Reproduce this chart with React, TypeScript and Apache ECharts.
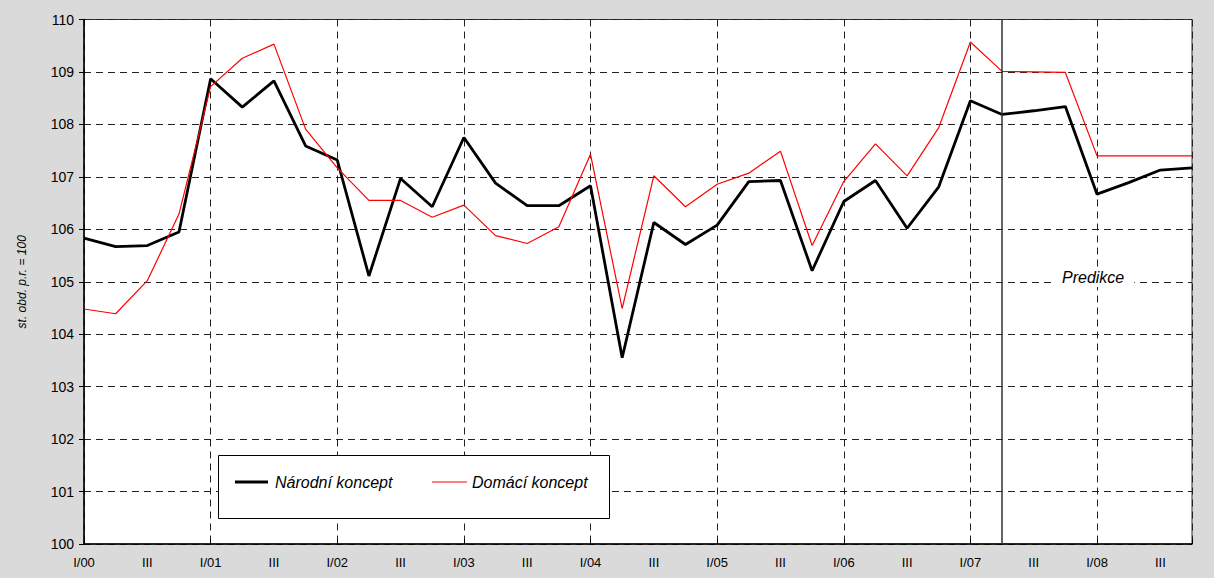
import React, { useEffect, useRef } from "react";
import * as echarts from "echarts";

const years = ["00", "01", "02", "03", "04", "05", "06", "07", "08"];
const quarterNames = ["I", "II", "III", "IV"];
const categories: string[] = [];
years.forEach((y) => quarterNames.forEach((q) => categories.push(q + "/" + y)));

const narodni = [
  105.83, 105.67, 105.69, 105.95, 108.87, 108.33, 108.83, 107.59,
  107.32, 105.11, 106.97, 106.43, 107.75, 106.88, 106.45, 106.45,
  106.83, 103.55, 106.13, 105.71, 106.08, 106.91, 106.93, 105.21,
  106.53, 106.93, 106.02, 106.81, 108.45, 108.19, 108.26, 108.34,
  106.67, 106.89, 107.13, 107.17,
];

const domaci = [
  104.48, 104.39, 105.02, 106.29, 108.72, 109.26, 109.53, 107.91,
  107.17, 106.55, 106.55, 106.23, 106.46, 105.88, 105.73, 106.05,
  107.43, 104.49, 107.02, 106.43, 106.86, 107.07, 107.49, 105.69,
  106.91, 107.63, 107.02, 107.94, 109.57, 109.01, 109.0, 108.99,
  107.4, 107.4, 107.4, 107.4,
];

const seriesNames = ["Národní koncept", "Domácí koncept"];
const predictionStart = "II/07";
const yAxisName = "st. obd. p.r. = 100";
const predictionLabel = "Predikce";

function formatTick(value: string) {
  const [q, y] = value.split("/");
  if (q === "I") return "I/" + y;
  if (q === "III") return "III";
  return "";
}

export default function App() {
  const ref = useRef<HTMLDivElement>(null);
  useEffect(() => {
    if (!ref.current) return;
    const chart = echarts.init(ref.current, null, { renderer: "svg" });
    const font = "Liberation Sans, Arial, sans-serif";
    const legendText = {
      fontFamily: font,
      fontStyle: "italic",
      fontSize: 16,
      fill: "#000",
      verticalAlign: "middle",
    };
    chart.setOption({
      animation: false,
      backgroundColor: "#dadada",
      textStyle: { fontFamily: font },
      grid: {
        left: 84,
        right: 22,
        top: 19.5,
        bottom: 34,
        show: true,
        backgroundColor: "#ffffff",
        borderColor: "#333333",
        borderWidth: 1,
      },
      xAxis: {
        type: "category",
        data: categories,
        boundaryGap: false,
        axisLine: { lineStyle: { color: "#000", width: 1.5 } },
        axisTick: { show: true, interval: 3, inside: true, length: 5, lineStyle: { color: "#000" } },
        axisLabel: {
          interval: 0,
          formatter: formatTick,
          color: "#000",
          fontSize: 13,
          margin: 12,
          fontFamily: font,
        },
        splitLine: {
          show: true,
          interval: 3,
          lineStyle: { color: "#222", type: [7, 5], width: 1 },
        },
      },
      yAxis: {
        type: "value",
        min: 100,
        max: 110,
        interval: 1,
        name: yAxisName,
        nameLocation: "middle",
        nameGap: 56,
        nameTextStyle: { fontStyle: "italic", fontSize: 12, color: "#000", fontFamily: font },
        axisLine: { show: true, lineStyle: { color: "#000", width: 1.5 } },
        axisTick: { show: true, length: 5, lineStyle: { color: "#000" } },
        axisLabel: { color: "#000", fontSize: 14, margin: 10, fontFamily: font },
        splitLine: { show: true, lineStyle: { color: "#222", type: [7, 5], width: 1 } },
      },
      graphic: [
        {
          type: "rect",
          left: 218,
          top: 455,
          z: 5,
          shape: { width: 391, height: 63 },
          style: { fill: "#ffffff", stroke: "#000", lineWidth: 1 },
        },
        {
          type: "line",
          z: 6,
          shape: { x1: 235, y1: 482, x2: 268, y2: 482 },
          style: { stroke: "#000", lineWidth: 2.8 },
        },
        {
          type: "text",
          x: 275,
          y: 482,
          z: 6,
          style: { ...legendText, text: seriesNames[0] },
        },
        {
          type: "line",
          z: 6,
          shape: { x1: 432, y1: 482, x2: 467, y2: 482 },
          style: { stroke: "#ff0000", lineWidth: 1.2 },
        },
        {
          type: "text",
          x: 472,
          y: 482,
          z: 6,
          style: { ...legendText, text: seriesNames[1] },
        },
        {
          type: "text",
          left: 1052,
          top: 267,
          z: 5,
          style: {
            text: predictionLabel,
            fontFamily: font,
            fontStyle: "italic",
            fontSize: 16,
            fill: "#000",
            backgroundColor: "#ffffff",
            padding: [2, 10, 2, 10],
          },
        },
      ],
      series: [
        {
          name: seriesNames[0],
          type: "line",
          data: narodni,
          symbol: "none",
          lineStyle: { color: "#000", width: 2.8 },
          itemStyle: { color: "#000" },
          z: 3,
          markLine: {
            silent: true,
            symbol: "none",
            label: { show: false },
            lineStyle: { color: "#333", type: "solid", width: 1.5 },
            data: [{ xAxis: predictionStart }],
          },
        },
        {
          name: seriesNames[1],
          type: "line",
          data: domaci,
          symbol: "none",
          lineStyle: { color: "#ff0000", width: 1.2 },
          itemStyle: { color: "#ff0000" },
          z: 4,
        },
      ],
    });
    return () => chart.dispose();
  }, []);
  return (
    <div
      ref={ref}
      style={{ position: "fixed", left: 0, top: 0, width: 1214, height: 578 }}
    />
  );
}
